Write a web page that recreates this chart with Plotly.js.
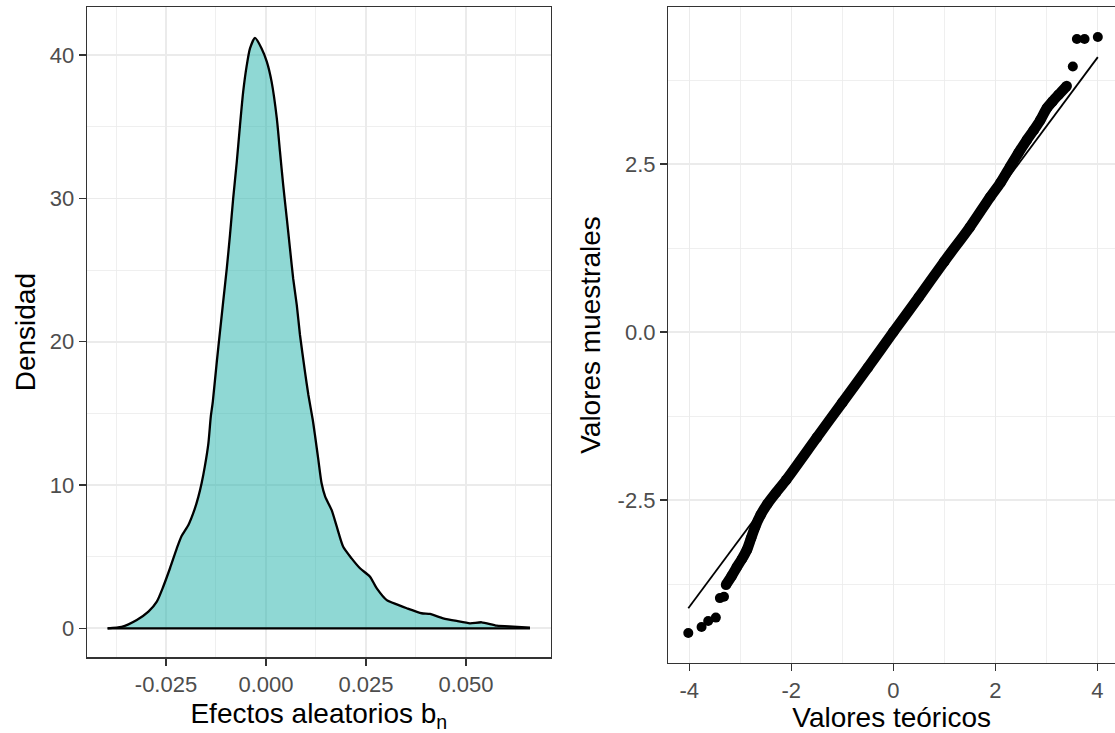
<!DOCTYPE html>
<html>
<head>
<meta charset="utf-8">
<script src="https://cdn.plot.ly/plotly-3.0.1.min.js"></script>
<style>html,body{margin:0;padding:0;background:#fff;}#chart{width:1115px;height:733px;}</style>
</head>
<body>
<div id="chart"></div>
<script>
// ---- Density of random effects b_n ----
const densX = [-0.0396,-0.0361,-0.0323,-0.0294,-0.0273,-0.0257,-0.0240,-0.0223,-0.0211,-0.0194,-0.0179,-0.0169,-0.0161,-0.0153,-0.0144,-0.0138,-0.0133,-0.0123,-0.0115,-0.0107,-0.0098,-0.0090,-0.0082,-0.0073,-0.0065,-0.0057,-0.0048,-0.0040,-0.00275,-0.0011,0.0002,0.0014,0.0027,0.0035,0.0043,0.0052,0.0060,0.0068,0.0077,0.0085,0.00975,0.0106,0.0117,0.0123,0.0131,0.0139,0.0148,0.0164,0.0177,0.0193,0.0214,0.0235,0.0260,0.0277,0.0302,0.0327,0.0352,0.0389,0.0410,0.0443,0.0477,0.0510,0.0539,0.0577,0.0618,0.0660];
const densY = [0,0.10,0.58,1.16,1.86,2.90,4.19,5.58,6.44,7.21,8.26,9.19,10.12,11.28,12.91,14.77,15.80,18.60,20.70,22.79,25.12,27.45,30.00,32.56,35.10,37.45,39.30,40.47,41.20,40.47,39.55,38.15,35.60,33.26,30.94,28.60,26.50,24.40,22.56,20.47,17.90,16.28,14.54,13.37,11.74,10.12,9.19,8.26,7.09,5.69,4.88,4.19,3.60,2.79,1.97,1.67,1.40,1.05,1.00,0.70,0.51,0.35,0.42,0.18,0.11,0.04];

// ---- QQ plot: dense band of points ----
const bandTheo = [-3.28,-3.17,-3.07,-2.97,-2.87,-2.79,-2.71,-2.60,-2.47,-2.30,-2.10,-1.50,-1.00,-0.50,0.00,0.50,1.00,1.50,1.90,2.10,2.29,2.45,2.62,2.75,2.88,3.01,3.12,3.24,3.40];
const bandSamp = [-3.76,-3.63,-3.50,-3.38,-3.24,-3.07,-2.90,-2.72,-2.56,-2.39,-2.20,-1.57,-1.05,-0.53,0.00,0.52,1.05,1.56,2.01,2.22,2.46,2.66,2.86,3.00,3.15,3.33,3.43,3.53,3.66];
// isolated tail points
const tailTheo = [-4.02,-3.76,-3.63,-3.48,-3.40,-3.32,3.52,3.60,3.75,4.01];
const tailSamp = [-4.48,-4.39,-4.30,-4.25,-3.96,-3.94,3.95,4.36,4.36,4.39];
// reference line end points
const lineTheo = [-4.02, 4.01];
const lineSamp = [-4.11, 4.09];

// ---- tick labels ----
const densXTicks = [-0.025, 0, 0.025, 0.05];
const densXLabels = ["-0.025", "0.000", "0.025", "0.050"];
const densYTicks = [0, 10, 20, 30, 40];
const densYLabels = ["0", "10", "20", "30", "40"];
const qqXTicks = [-4, -2, 0, 2, 4];
const qqXLabels = ["-4", "-2", "0", "2", "4"];
const qqYTicks = [-2.5, 0, 2.5];
const qqYLabels = ["-2.5", "0.0", "2.5"];

const FONT = "Liberation Sans, Arial, Helvetica, sans-serif";
const GRID = "#EBEBEB";

const traces = [
  {x: densX, y: densY, type: "scatter", mode: "lines", fill: "tozeroy",
   fillcolor: "rgba(32,178,170,0.5)", line: {color: "#000", width: 2.3, shape: "spline", smoothing: 0.6},
   xaxis: "x", yaxis: "y", hoverinfo: "skip"},
  {x: [densX[0], densX[densX.length - 1]], y: [0, 0], type: "scatter", mode: "lines",
   line: {color: "#000", width: 2.3}, xaxis: "x", yaxis: "y", hoverinfo: "skip"},
  {x: bandTheo, y: bandSamp, type: "scatter", mode: "lines+markers",
   line: {color: "#000", width: 10.5, shape: "spline", smoothing: 0.8}, marker: {color: "#000", size: 10.5},
   xaxis: "x2", yaxis: "y2", hoverinfo: "skip"},
  {x: tailTheo, y: tailSamp, type: "scatter", mode: "markers",
   marker: {color: "#000", size: 10}, xaxis: "x2", yaxis: "y2", hoverinfo: "skip"},
  {x: lineTheo, y: lineSamp, type: "scatter", mode: "lines",
   line: {color: "#000", width: 1.8}, xaxis: "x2", yaxis: "y2", hoverinfo: "skip"}
];

function axisBase(extra) {
  return Object.assign({
    showgrid: true, gridcolor: GRID, gridwidth: 1.6, zeroline: false,
    showline: true, linecolor: "#333333", linewidth: 1.4,
    ticks: "outside", ticklen: 7, tickwidth: 1.4, tickcolor: "#333333",
    tickmode: "array",
    tickfont: {family: FONT, size: 22, color: "#4D4D4D"},
    fixedrange: true
  }, extra);
}

const layout = {
  width: 1115, height: 733,
  margin: {l: 0, r: 0, t: 0, b: 0},
  paper_bgcolor: "#fff", plot_bgcolor: "#fff",
  showlegend: false,
  xaxis: axisBase({
    domain: [87/1115, 550.7/1115], range: [-0.04475, 0.07118],
    tickvals: densXTicks, ticktext: densXLabels, mirror: true, anchor: "y",
    minor: {showgrid: true, gridcolor: GRID, gridwidth: 0.8, tick0: 0, dtick: 0.0125, ticks: ""},
    title: {text: "Efectos aleatorios b<sub>n</sub>", font: {family: FONT, size: 28, color: "#000"}, standoff: 8}
  }),
  yaxis: axisBase({
    domain: [(733-657.3)/733, (733-7)/733], range: [-2.024, 43.36],
    tickvals: densYTicks, ticktext: densYLabels, mirror: true, anchor: "x",
    minor: {showgrid: true, gridcolor: GRID, gridwidth: 0.8, tick0: 0, dtick: 5, ticks: ""},
    title: {text: "Densidad", font: {family: FONT, size: 28, color: "#000"}, standoff: 6}
  }),
  xaxis2: axisBase({
    domain: [668.3/1115, 1], range: [-4.412, 4.347],
    tickvals: qqXTicks, ticktext: qqXLabels, mirror: true, anchor: "y2",
    minor: {showgrid: true, gridcolor: GRID, gridwidth: 0.8, tick0: 0, dtick: 1, ticks: ""},
    title: {text: "Valores teóricos", font: {family: FONT, size: 28, color: "#000"}, standoff: 8}
  }),
  yaxis2: axisBase({
    domain: [(733-662.7)/733, (733-7.3)/733], range: [-4.921, 4.832],
    tickvals: qqYTicks, ticktext: qqYLabels, mirror: false, anchor: "x2",
    minor: {showgrid: true, gridcolor: GRID, gridwidth: 0.8, tick0: 0, dtick: 1.25, ticks: ""},
    title: {text: "Valores muestrales", font: {family: FONT, size: 28, color: "#000"}, standoff: 8}
  })
};

Plotly.newPlot("chart", traces, layout, {displayModeBar: false, staticPlot: true});
</script>
</body>
</html>
